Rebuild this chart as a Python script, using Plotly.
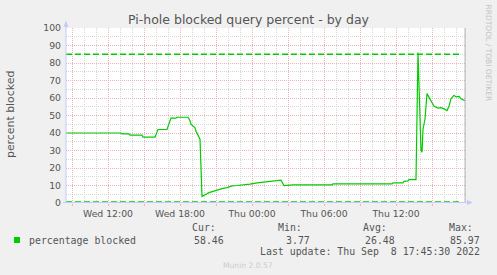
import plotly.graph_objects as go

# ---------------- data ----------------
times = [
    "2022-09-07 08:30", "2022-09-07 13:05", "2022-09-07 13:10", "2022-09-07 13:45",
    "2022-09-07 13:50", "2022-09-07 14:50", "2022-09-07 14:55", "2022-09-07 15:55",
    "2022-09-07 16:10", "2022-09-07 16:55", "2022-09-07 17:15", "2022-09-07 17:40",
    "2022-09-07 17:45", "2022-09-07 18:40", "2022-09-07 18:45", "2022-09-07 18:50",
    "2022-09-07 18:55", "2022-09-07 19:05", "2022-09-07 19:15", "2022-09-07 19:20",
    "2022-09-07 19:30", "2022-09-07 19:40", "2022-09-07 19:50", "2022-09-07 20:00",
    "2022-09-07 20:10", "2022-09-07 20:25", "2022-09-07 20:45", "2022-09-07 21:10",
    "2022-09-07 21:30", "2022-09-07 21:55", "2022-09-07 22:20", "2022-09-07 22:45",
    "2022-09-07 23:20", "2022-09-07 23:50", "2022-09-08 00:25", "2022-09-08 01:15",
    "2022-09-08 01:45", "2022-09-08 02:25", "2022-09-08 02:40", "2022-09-08 03:20",
    "2022-09-08 03:25", "2022-09-08 06:40", "2022-09-08 06:45", "2022-09-08 11:40",
    "2022-09-08 11:45", "2022-09-08 12:35", "2022-09-08 12:40", "2022-09-08 13:00",
    "2022-09-08 13:05", "2022-09-08 13:40", "2022-09-08 13:50", "2022-09-08 14:05",
    "2022-09-08 14:10", "2022-09-08 14:15", "2022-09-08 14:25", "2022-09-08 14:35",
    "2022-09-08 14:40", "2022-09-08 14:55", "2022-09-08 15:10", "2022-09-08 15:30",
    "2022-09-08 15:45", "2022-09-08 16:00", "2022-09-08 16:15", "2022-09-08 16:25",
    "2022-09-08 16:35", "2022-09-08 16:50", "2022-09-08 17:00", "2022-09-08 17:15",
    "2022-09-08 17:25", "2022-09-08 17:45",
]
values = [
    40.0, 40.0, 39.5, 39.5,
    38.8, 38.8, 37.6, 37.6,
    42.0, 42.0, 48.5, 48.5,
    49.0, 49.0, 48.0, 47.0,
    45.0, 44.0, 43.0, 41.0,
    38.5, 36.5, 3.77, 4.6,
    5.0, 5.9, 6.7, 7.3,
    8.2, 8.8, 9.8, 10.0,
    10.2, 10.8, 11.5, 12.1,
    12.6, 13.0, 10.0, 10.2,
    10.4, 10.4, 10.9, 10.9,
    11.5, 11.5, 12.4, 12.6,
    13.4, 13.4, 85.97, 30.0,
    29.0, 42.0, 48.0, 62.5,
    61.5, 58.6, 55.3, 54.2,
    54.5, 53.8, 52.8, 55.3,
    59.6, 61.5, 60.6, 60.9,
    59.6, 58.46,
]
thresholds = [85, 0.6]

x_range = ["2022-09-07 08:30", "2022-09-08 17:50"]
x_tickvals = ["2022-09-07 09:00", "2022-09-07 12:00", "2022-09-07 15:00", "2022-09-07 18:00",
              "2022-09-07 21:00", "2022-09-08 00:00", "2022-09-08 03:00", "2022-09-08 06:00",
              "2022-09-08 09:00", "2022-09-08 12:00", "2022-09-08 15:00"]
x_ticktext = ["", "Wed 12:00", "", "Wed 18:00", "", "Thu 00:00", "", "Thu 06:00", "", "Thu 12:00", ""]
y_tickvals = [0, 10, 20, 30, 40, 50, 60, 70, 80, 90, 100]
y_ticktext = ["0", "10", "20", "30", "40", "50", "60", "70", "80", "90", "100"]

title = "Pi-hole blocked query percent - by day"
y_title = "percent blocked"
series_name = "percentage blocked"
stat_labels = ["Cur:", "Min:", "Avg:", "Max:"]
stat_values = ["58.46", "3.77", "26.48", "85.97"]
last_update = "Last update: Thu Sep\u00a0\u00a08 17:45:30 2022"
last_update_time = "2022-09-08 17:45:30"
credit = "RRDTOOL / TOBI OETIKER"
version = "Munin 2.0.57"

# ---------------- styling ----------------
L, T, W, H = 66, 28, 400, 175
FW, FH = 497, 275


def px(x):
    return (x - L) / W


def py(y):
    return (T + H - y) / H


GREEN = "#00cc00"
RED_GRID = "#ebb4b4"
GRAY_GRID = "#d6d6d6"
AXIS_BLUE = "#c4cbf4"
TXT = "#555555"
SANS = "DejaVu Sans"
MONO = "DejaVu Sans Mono"

fig = go.Figure()
fig.add_trace(go.Scatter(x=times, y=values, mode="lines", name=series_name,
                         line=dict(color=GREEN, width=1.2), hoverinfo="skip"))

shapes = []
for thr in thresholds:
    shapes.append(dict(type="line", xref="paper", yref="y", x0=0, x1=0.99, y0=thr, y1=thr,
                       line=dict(color=GREEN, width=1.3, dash="6px,3px")))
# right edge gray line
shapes.append(dict(type="line", xref="x", yref="paper", x0=last_update_time, x1=last_update_time,
                   y0=0, y1=1, line=dict(color="#a8a8a8", width=1)))
# axes (light blue) with arrows
shapes.append(dict(type="line", xref="paper", yref="paper", x0=px(66), x1=px(66), y0=py(203), y1=py(22),
                   line=dict(color=AXIS_BLUE, width=1)))
shapes.append(dict(type="line", xref="paper", yref="paper", x0=px(63), x1=px(468), y0=py(202.5), y1=py(202.5),
                   line=dict(color=AXIS_BLUE, width=1)))
shapes.append(dict(type="path", xref="paper", yref="paper",
                   path=f"M {px(63.5)} {py(27)} L {px(68.5)} {py(27)} L {px(66)} {py(21)} Z",
                   fillcolor=AXIS_BLUE, line=dict(width=0)))
shapes.append(dict(type="path", xref="paper", yref="paper",
                   path=f"M {px(467)} {py(200)} L {px(467)} {py(205)} L {px(473)} {py(202.5)} Z",
                   fillcolor=AXIS_BLUE, line=dict(width=0)))
# legend square
shapes.append(dict(type="rect", xref="paper", yref="paper", x0=px(14), x1=px(20), y0=py(243), y1=py(237),
                   fillcolor=GREEN, line=dict(width=0)))

ann = []
ann.append(dict(text=title, x=px(249), y=py(19), xref="paper", yref="paper", showarrow=False,
                xanchor="center", yanchor="middle", font=dict(family=SANS, size=12.5, color=TXT)))
ann.append(dict(text=y_title, x=px(10), y=py(114), xref="paper", yref="paper", showarrow=False,
                textangle=-90, xanchor="center", yanchor="middle", font=dict(family=SANS, size=10.9, color=TXT)))
ann.append(dict(text=credit, x=px(488.5), y=py(53), xref="paper", yref="paper", showarrow=False,
                textangle=90, xanchor="center", yanchor="middle", font=dict(family=SANS, size=7.5, color="#c4c4c4")))
ann.append(dict(text=version, x=px(248), y=py(265), xref="paper", yref="paper", showarrow=False,
                xanchor="center", yanchor="middle", font=dict(family=SANS, size=7.6, color="#cccccc")))
ann.append(dict(text=series_name, x=px(26.5), y=py(240), xref="paper", yref="paper", showarrow=False,
                xanchor="left", yanchor="middle", font=dict(family=MONO, size=9.9, color=TXT)))
label_left = [190, 276, 361, 447]
value_right = [226, 312, 397, 482]
for lab, val, xl, xr in zip(stat_labels, stat_values, label_left, value_right):
    ann.append(dict(text=lab, x=px(xl), y=py(227.5), xref="paper", yref="paper", showarrow=False,
                    xanchor="left", yanchor="middle", font=dict(family=MONO, size=9.9, color=TXT)))
    ann.append(dict(text=val, x=px(xr), y=py(240), xref="paper", yref="paper", showarrow=False,
                    xanchor="right", yanchor="middle", font=dict(family=MONO, size=9.9, color=TXT)))
ann.append(dict(text=last_update, x=px(482), y=py(251), xref="paper", yref="paper", showarrow=False,
                xanchor="right", yanchor="middle", font=dict(family=MONO, size=9.9, color=TXT)))

fig.update_layout(
    width=FW, height=FH,
    margin=dict(l=L, r=FW - L - W, t=T, b=FH - T - H, pad=0),
    paper_bgcolor="#f0f0f0", plot_bgcolor="white",
    showlegend=False,
    shapes=shapes, annotations=ann,
    xaxis=dict(type="date", range=x_range, tickmode="array", tickvals=x_tickvals, ticktext=x_ticktext,
               ticks="outside", ticklen=2, tickcolor=RED_GRID, tickwidth=1,
               showgrid=True, gridcolor=RED_GRID, griddash="1px,1px", gridwidth=1,
               minor=dict(dtick=3600000, tick0="2022-09-07 00:00", showgrid=True,
                          gridcolor=GRAY_GRID, griddash="1px,1px", gridwidth=1, ticks=""),
               showline=False, zeroline=False,
               tickfont=dict(family=SANS, size=9.3, color=TXT), fixedrange=True),
    yaxis=dict(range=[0, 100], tickmode="array", tickvals=y_tickvals, ticktext=y_ticktext,
               ticks="", ticklabelstandoff=4,
               showgrid=True, gridcolor=RED_GRID, griddash="1px,1px", gridwidth=1,
               minor=dict(dtick=5, tick0=0, showgrid=True, gridcolor=GRAY_GRID,
                          griddash="1px,1px", gridwidth=1, ticks=""),
               showline=False, zeroline=False,
               tickfont=dict(family=SANS, size=9.3, color=TXT), fixedrange=True),
)

fig.write_html("out.html")
